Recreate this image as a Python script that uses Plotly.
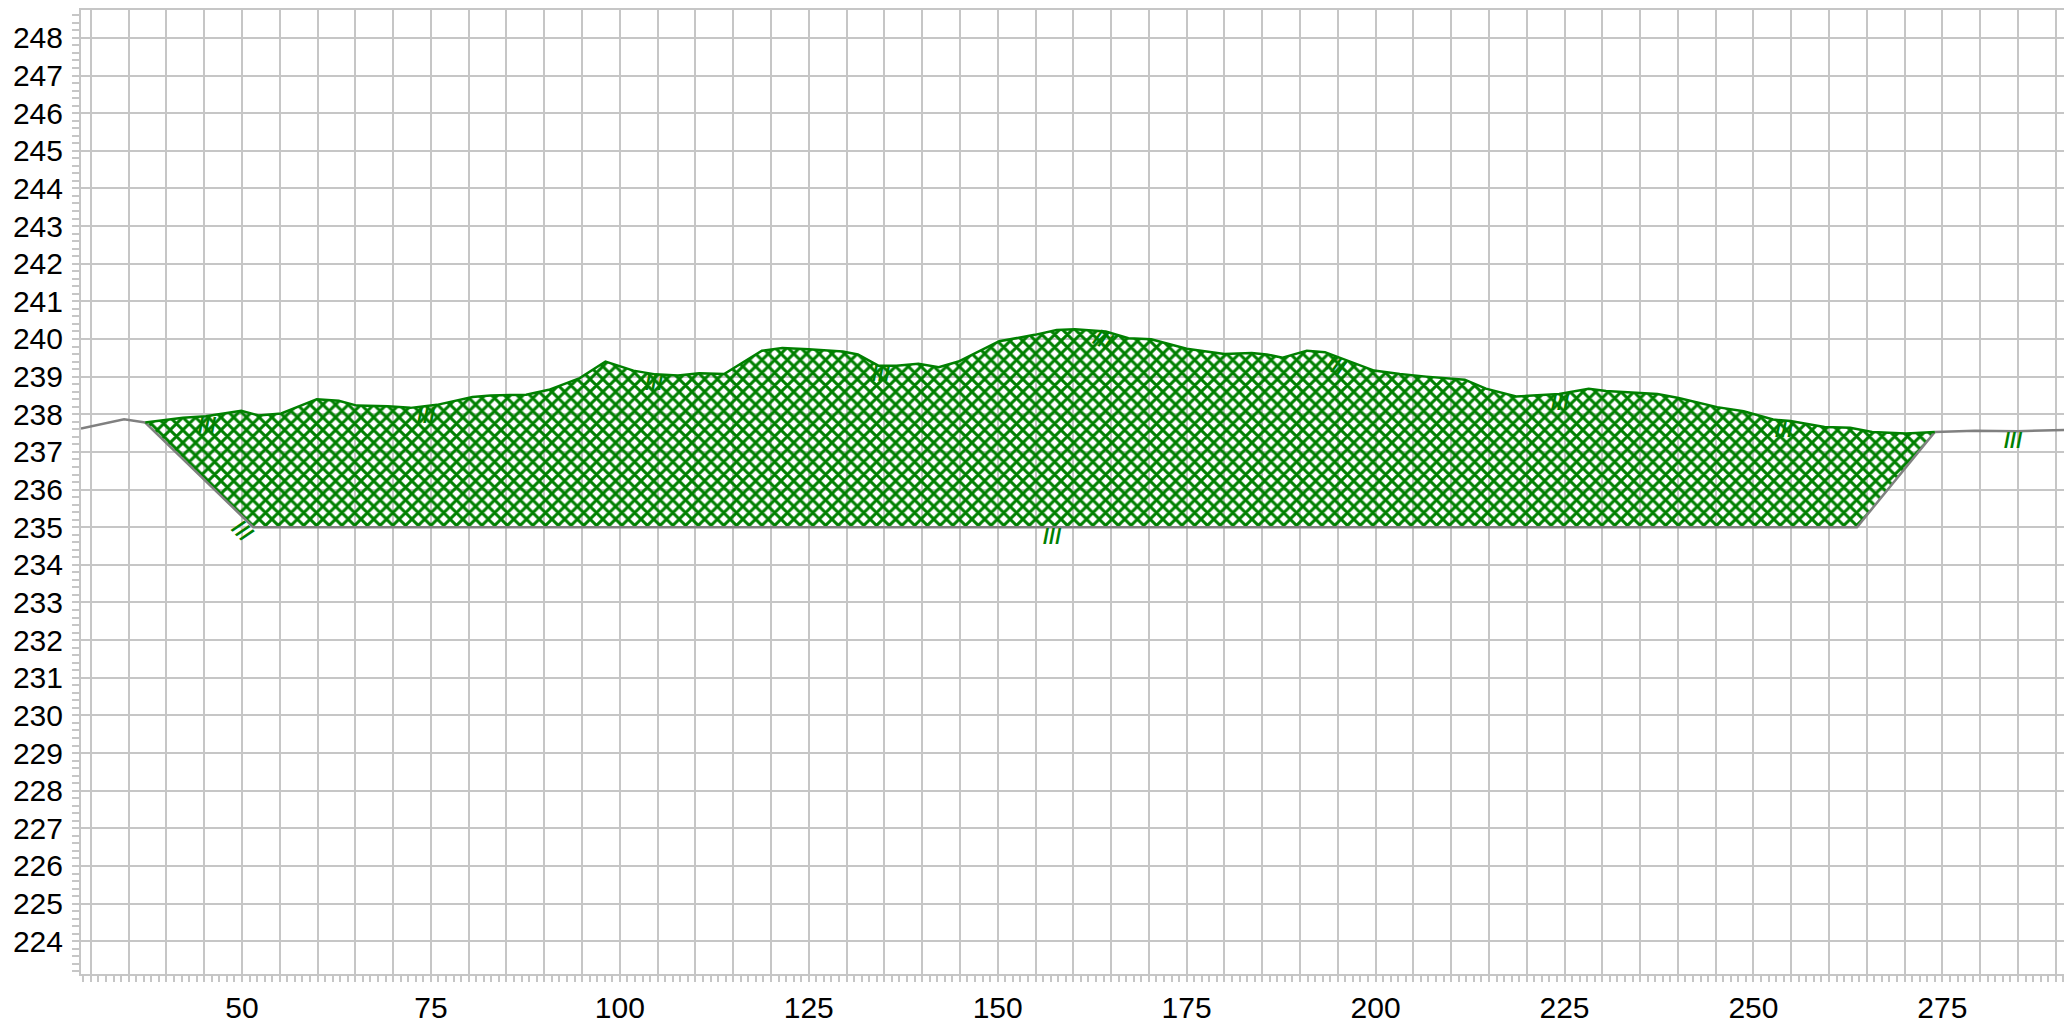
import plotly.graph_objects as go

# ---- data ----
ground_left_x = [28.7, 34.4, 37.2]
ground_left_y = [237.62, 237.87, 237.78]

top_x = [37.2, 42.2, 45.2, 49.9, 52.2, 55.2, 59.9, 62.8, 65.2, 69.3, 72.3, 75.8,
         80.5, 82.9, 87.6, 90.6, 94.7, 98.1, 101.8, 104.7, 107.7, 110.5, 113.8,
         118.8, 121.5, 125.0, 129.5, 131.5, 134.2, 136.6, 139.5, 142.2, 144.8,
         150.2, 154.9, 157.8, 160.2, 164.3, 167.3, 170.3, 175.0, 180.0, 183.6,
         185.6, 187.7, 190.9, 193.3, 195.6, 199.8, 203.2, 206.7, 211.8, 214.6,
         218.6, 224.3, 228.2, 230.5, 237.3, 240.1, 245.2, 248.7, 252.6, 254.9,
         259.4, 262.8, 265.7, 270.2, 274.0]
top_y = [237.78, 237.91, 237.95, 238.09, 237.97, 238.02, 238.40, 238.36, 238.23,
         238.21, 238.17, 238.25, 238.46, 238.50, 238.52, 238.65, 238.96, 239.40,
         239.16, 239.06, 239.03, 239.09, 239.07, 239.69, 239.76, 239.73, 239.67,
         239.59, 239.29, 239.29, 239.34, 239.25, 239.40, 239.94, 240.11, 240.24,
         240.26, 240.20, 240.02, 239.99, 239.74, 239.60, 239.63, 239.59, 239.50,
         239.69, 239.65, 239.47, 239.16, 239.07, 239.00, 238.92, 238.68, 238.47,
         238.54, 238.68, 238.62, 238.54, 238.43, 238.19, 238.08, 237.86, 237.82,
         237.66, 237.64, 237.53, 237.49, 237.53]

cut_x = [37.2, 51.5, 263.7, 274.0]
cut_y = [237.78, 235.0, 235.0, 237.53]

ground_right_x = [274.0, 279.3, 284.9, 292.2]
ground_right_y = [237.53, 237.56, 237.55, 237.59]

mark_x = [45.4, 74.3, 104.5, 134.5, 163.9, 194.8, 224.4, 254.1, 284.3, 50.0, 157.2]
mark_y = [237.70, 237.98, 238.84, 239.08, 239.98, 239.30, 238.32, 237.60, 237.30, 234.90, 234.74]
mark_angle = [0, 0, 0, 0, 25, 25, 0, 0, 0, 45, 0]

y_ticks = list(range(224, 249))
x_ticks = list(range(30, 291, 5))
x_ticktext = [str(v) if v % 25 == 0 else "" for v in x_ticks]

GREEN = "#008000"
GRAY = "#808080"
GRID = "#c6c6c6"
FONT = "Liberation Sans, Arial, sans-serif"

fig = go.Figure()

# hatched fill of the cut area
fig.add_trace(go.Scatter(
    x=top_x + cut_x[2:0:-1], y=top_y + cut_y[2:0:-1],
    mode="lines", fill="toself", line=dict(width=0),
    fillcolor="rgba(0,0,0,0)",
    fillpattern=dict(shape="x", fgcolor=GREEN, bgcolor="rgba(255,255,255,0)",
                     size=9, solidity=0.55, fillmode="replace"),
    hoverinfo="skip"))

# cut outline (slopes and bottom)
fig.add_trace(go.Scatter(x=cut_x, y=cut_y, mode="lines",
                         line=dict(color=GRAY, width=2.5)))
# ground line outside the cut
fig.add_trace(go.Scatter(x=ground_left_x, y=ground_left_y, mode="lines",
                         line=dict(color=GRAY, width=2.5)))
fig.add_trace(go.Scatter(x=ground_right_x, y=ground_right_y, mode="lines",
                         line=dict(color=GRAY, width=2.5)))
# top profile
fig.add_trace(go.Scatter(x=top_x, y=top_y, mode="lines",
                         line=dict(color=GREEN, width=2.5)))

for mx, my, ma in zip(mark_x, mark_y, mark_angle):
    fig.add_annotation(x=mx, y=my, text="<b>///</b>", showarrow=False, textangle=ma,
                       font=dict(family=FONT, size=22, color=GREEN))

# page body has an 8px margin: compensate so the plot area lands where the reference has it
fig.update_layout(
    width=2064, height=1016,
    margin=dict(l=73, r=0, t=0, b=48),
    paper_bgcolor="white", plot_bgcolor="white",
    showlegend=False,
    font=dict(family=FONT, size=30, color="black"),
)
fig.update_xaxes(
    range=[28.7, 292.15], tickvals=x_ticks, ticktext=x_ticktext,
    showgrid=True, gridcolor=GRID, gridwidth=2,
    ticks="outside", ticklen=6, tickcolor=GRID, tickwidth=1.5,
    minor=dict(dtick=1, tick0=0, ticks="outside", ticklen=6, tickcolor=GRID,
               tickwidth=1.5, showgrid=False),
    showline=True, linecolor=GRID, linewidth=2, mirror=True,
    zeroline=False, tickfont=dict(size=30, family=FONT, color="black"),
)
fig.update_yaxes(
    range=[223.13, 248.74], tickvals=y_ticks,
    showgrid=True, gridcolor=GRID, gridwidth=2,
    ticks="outside", ticklen=7, tickcolor=GRID, tickwidth=1.5,
    minor=dict(dtick=0.2, tick0=0, ticks="outside", ticklen=7, tickcolor=GRID,
               tickwidth=1.5, showgrid=False),
    showline=True, linecolor=GRID, linewidth=2, ticklabelstandoff=3,
    zeroline=False, tickfont=dict(size=30, family=FONT, color="black"),
)

fig.write_html("out.html")
